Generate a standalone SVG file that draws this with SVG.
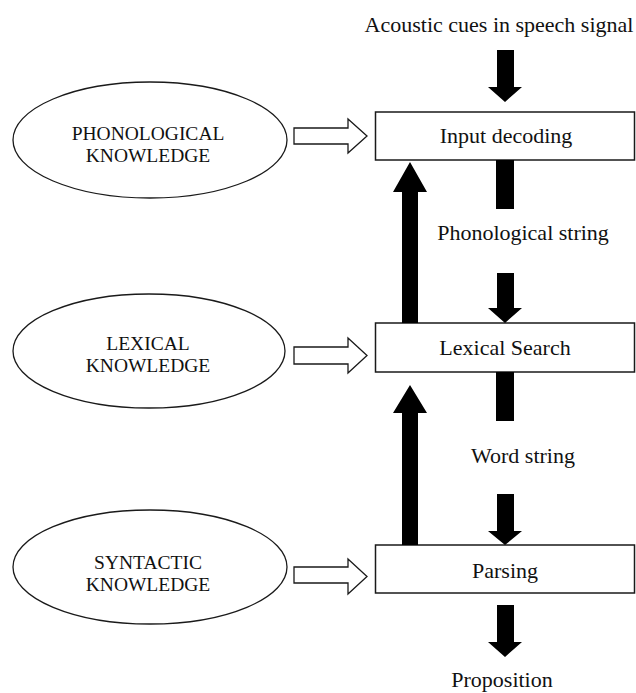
<svg xmlns="http://www.w3.org/2000/svg" width="636" height="693" viewBox="0 0 636 693">
  <style>
    .bg { fill: #ffffff; }
    .box { fill: #ffffff; stroke: #1a1a1a; stroke-width: 1.5; }
    .oval { fill: #ffffff; stroke: #1a1a1a; stroke-width: 1.3; }
    .label { font-family: "Liberation Serif", "Times New Roman", serif; font-size: 22px; fill: #111111; text-anchor: middle; }
    .caps { font-family: "Liberation Serif", "Times New Roman", serif; font-size: 19.5px; fill: #111111; text-anchor: middle; }
    .solid { fill: #000000; stroke: none; }
    .hollow { fill: #ffffff; stroke: #1a1a1a; stroke-width: 1.3; stroke-linejoin: miter; }
  </style>

  <rect class="bg" x="0" y="0" width="636" height="693"/>

  <!-- processing stages -->
  <g id="input-decoding">
    <rect class="box" x="375.5" y="112" width="259" height="48"/>
    <text class="label" x="506" y="143">Input decoding</text>
  </g>
  <g id="lexical-search">
    <rect class="box" x="375.5" y="323" width="259" height="49"/>
    <text class="label" x="505" y="355">Lexical Search</text>
  </g>
  <g id="parsing">
    <rect class="box" x="375.5" y="545" width="259" height="48"/>
    <text class="label" x="505" y="578">Parsing</text>
  </g>

  <!-- knowledge sources (two-line labels) -->
  <g id="phonological-knowledge">
    <ellipse class="oval" cx="150" cy="140" rx="137" ry="58"/>
    <text class="caps" x="148" y="140">PHONOLOGICAL</text>
    <text class="caps" x="148" y="162">KNOWLEDGE</text>
  </g>
  <g id="lexical-knowledge">
    <ellipse class="oval" cx="149" cy="351" rx="136" ry="57"/>
    <text class="caps" x="148" y="350">LEXICAL</text>
    <text class="caps" x="148" y="372">KNOWLEDGE</text>
  </g>
  <g id="syntactic-knowledge">
    <ellipse class="oval" cx="150" cy="567" rx="137" ry="57"/>
    <text class="caps" x="148" y="569">SYNTACTIC</text>
    <text class="caps" x="148" y="591">KNOWLEDGE</text>
  </g>

  <!-- stream labels -->
  <g id="acoustic-cues">
    <text class="label" x="499" y="32">Acoustic cues in speech signal</text>
  </g>
  <g id="phonological-string">
    <text class="label" x="523" y="240">Phonological string</text>
  </g>
  <g id="word-string">
    <text class="label" x="523" y="463">Word string</text>
  </g>
  <g id="proposition">
    <text class="label" x="502" y="687">Proposition</text>
  </g>

  <g id="connectors">
    <!-- downward data flow -->
    <polygon class="solid" points="497,50 514,50 514,87 522,87 505,102 488,87 497,87"/>
    <rect class="solid" x="496" y="160" width="18" height="49"/>
    <polygon class="solid" points="497,273 514,273 514,308 522,308 505,323 488,308 497,308"/>
    <rect class="solid" x="496" y="372" width="18" height="49"/>
    <polygon class="solid" points="497,494 514,494 514,531 522,531 505,545 488,531 497,531"/>
    <polygon class="solid" points="497,605 514,605 514,642 522,642 505,657 488,642 497,642"/>

    <!-- upward feedback -->
    <polygon class="solid" points="402,323 418,323 418,192 427,192 410,162 393,192 402,192"/>
    <polygon class="solid" points="402,545 418,545 418,413 427,413 410,385 393,413 402,413"/>

    <!-- knowledge inputs -->
    <polygon class="hollow" points="294,128 348,128 348,119 367,136 348,153 348,144 294,144"/>
    <polygon class="hollow" points="294,347 348,347 348,338 367,355.5 348,373 348,364 294,364"/>
    <polygon class="hollow" points="294,567 348,567 348,559 367,576.5 348,594 348,583 294,583"/>
  </g>
</svg>
